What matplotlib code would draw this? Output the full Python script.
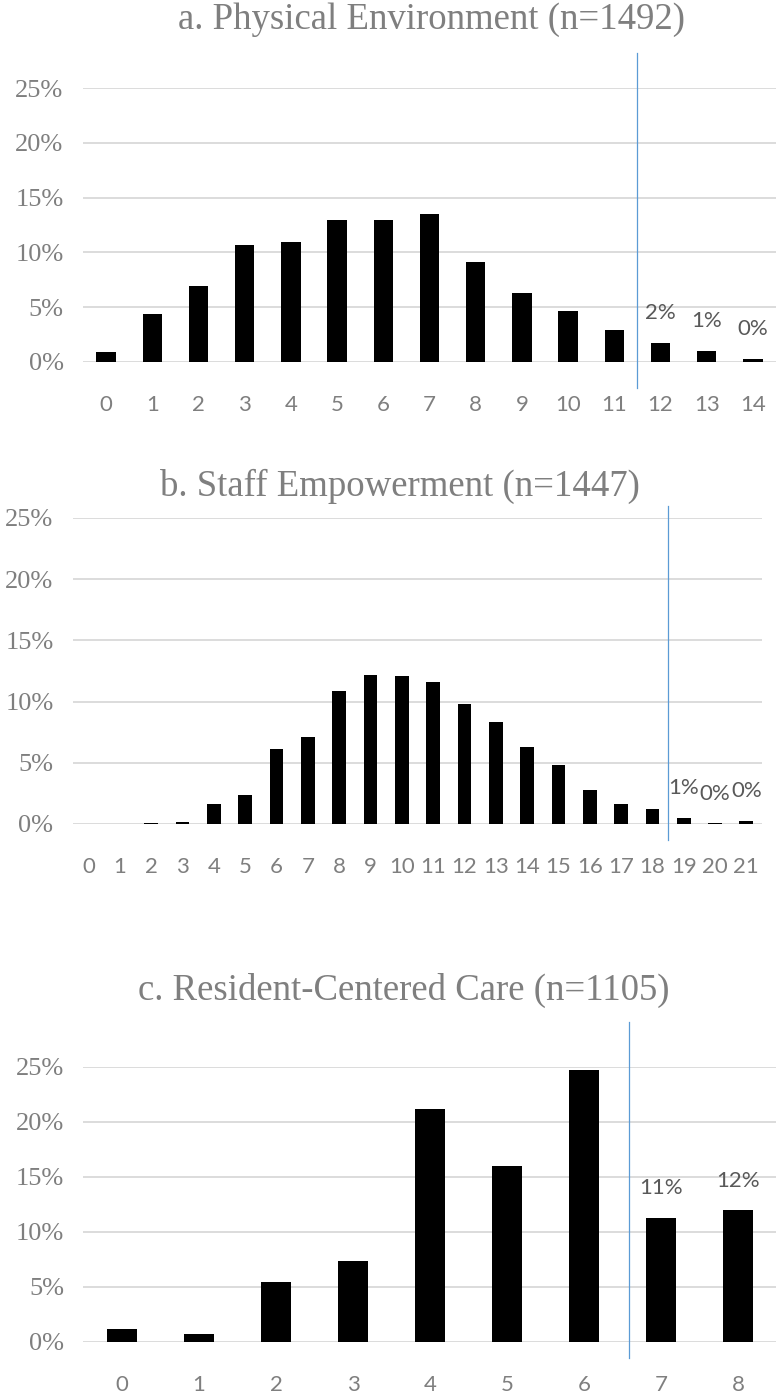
import numpy as np
import matplotlib
matplotlib.use('Agg')
import matplotlib.pyplot as plt

# Score distributions (percent of homes)
scores_a = list(range(15))
pct_a = [0.95, 4.4, 6.95, 10.7, 10.95, 13.0, 13.0, 13.55, 9.1, 6.3, 4.65, 2.95, 1.77, 1.0, 0.27]
title_a = 'a. Physical Environment (n=1492)'
cut_a = 11.5

scores_b = list(range(22))
pct_b = [0.0, 0.0, 0.1, 0.2, 1.6, 2.4, 6.1, 7.1, 10.9, 12.2, 12.1, 11.6, 9.8, 8.3, 6.3,
         4.8, 2.75, 1.6, 1.25, 0.52, 0.05, 0.27]
title_b = 'b. Staff Empowerment (n=1447)'
cut_b = 18.5

scores_c = list(range(9))
pct_c = [1.22, 0.7, 5.44, 7.32, 21.17, 16.04, 24.76, 11.3, 11.95]
title_c = 'c. Resident-Centered Care (n=1105)'
cut_c = 6.58

yticks = [0, 5, 10, 15, 20, 25]

GRAY = '#7f7f7f'
LABEL = '#595959'
GRID = '#d9d9d9'
BLUE = '#5b9bd5'

fig = plt.figure(figsize=(7.76, 13.98), dpi=100)


def panel(rect, scores, pct, cut, line_span, title, title_xy, bar_w):
    ax = fig.add_axes(rect)
    ax.bar(scores, pct, width=bar_w, color='black', zorder=3)
    ax.set_xlim(-0.5, len(scores) - 0.5)
    ax.set_ylim(0, 25)
    ax.set_yticks(yticks)
    ax.set_yticklabels([f'{t}%' for t in yticks], fontfamily='Liberation Serif',
                       fontsize=19, color=GRAY)
    ax.set_xticks(scores)
    ax.set_xticklabels([str(s) for s in scores], fontfamily='Lato', fontsize=16, color=GRAY)
    ax.tick_params(axis='both', length=0)
    ax.tick_params(axis='y', pad=14)
    ax.tick_params(axis='x', pad=24)
    ax.grid(axis='y', color=GRID, lw=1.3, zorder=0)
    for sp in ax.spines.values():
        sp.set_visible(False)
    ax.axvline(cut, ymin=line_span[0], ymax=line_span[1], color=BLUE, lw=0.9,
               clip_on=False, zorder=4)
    # value labels for the scores above the cut-off
    for s, v in zip(scores, pct):
        if s > cut:
            ax.annotate(f'{round(v)}%', (s, v), xytext=(0, 21.5), textcoords='offset points',
                        ha='center', va='center', fontfamily='Lato', fontsize=16,
                        color=LABEL, annotation_clip=False)
    fig.text(title_xy[0], title_xy[1], title, ha='center', va='center',
             fontfamily='Liberation Serif', fontsize=26.5, color=GRAY)
    return ax


panel([0.107, 0.7411, 0.893, 0.1958], scores_a, pct_a, cut_a, (-0.095, 1.129),
      title_a, (432 / 776, 1 - 20 / 1398), 0.42)
panel([0.094, 0.4106, 0.888, 0.2189], scores_b, pct_b, cut_b, (-0.052, 1.039),
      title_b, (400 / 776, 1 - 486 / 1398), 0.44)
panel([0.1076, 0.0401, 0.893, 0.1967], scores_c, pct_c, cut_c, (-0.058, 1.164),
      title_c, (404 / 776, 1 - 990 / 1398), 0.40)

fig.savefig('out.png', dpi=100)
